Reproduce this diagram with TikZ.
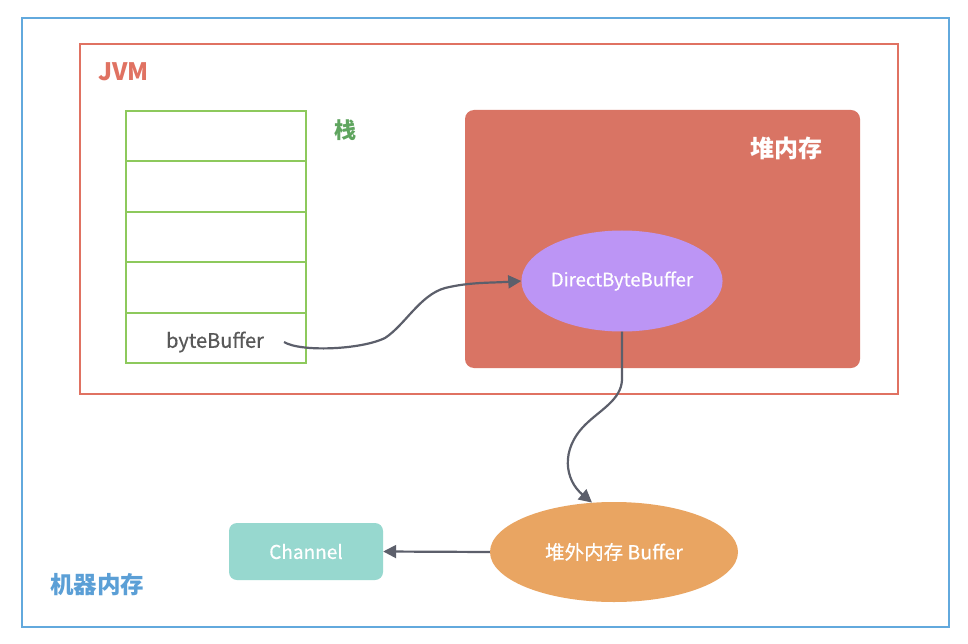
\documentclass[tikz,border=0pt]{standalone}
\usepackage{fontspec}
\setmainfont{Noto Sans CJK SC}
\newfontfamily\medfont{Noto Sans CJK SC}[FakeBold=0.5]
\usetikzlibrary{shapes.geometric,arrows.meta}
\definecolor{outerblue}{HTML}{62A9DD}
\definecolor{jvmred}{HTML}{E07262}
\definecolor{stackgreen}{HTML}{8DC95C}
\definecolor{stacktext}{HTML}{5FA55F}
\definecolor{heapfill}{HTML}{D97464}
\definecolor{purplefill}{HTML}{BC95F5}
\definecolor{orangefill}{HTML}{E9A562}
\definecolor{tealfill}{HTML}{97D8CF}
\definecolor{arrowgray}{HTML}{5C5F6B}
\definecolor{textgray}{HTML}{585858}
\definecolor{machineblue}{HTML}{5B9FD6}
\tikzset{
  conn/.style={draw=arrowgray, line width=2.2pt, -{Triangle[length=13pt,width=13pt]}},
  stackcell/.style={draw=stackgreen, line width=2pt, minimum width=180pt, minimum height=50.4pt, inner sep=0pt, outer sep=0pt},
}
\begin{document}
\begin{tikzpicture}[x=1pt,y=-1pt]
\useasboundingbox (0,0) rectangle (968,644);
\fill[white] (0,0) rectangle (968,644);
% outer machine memory
\draw[outerblue, line width=2.5pt] (22,18) rectangle (949,627);
\node[anchor=west, text=machineblue, font=\fontsize{23.5}{25}\selectfont\bfseries, inner sep=0pt] (machine) at (50,585) {机器内存};
% JVM
\draw[jvmred, line width=2pt] (80,44) rectangle (898,394);
\node[anchor=west, text=jvmred, font=\fontsize{24}{26}\selectfont\bfseries, inner sep=0pt] (jvm) at (98,72) {JVM};
% stack
\node[stackcell, anchor=north west] (s1) at (126,111) {};
\node[stackcell, anchor=north] (s2) at (s1.south) {};
\node[stackcell, anchor=north] (s3) at (s2.south) {};
\node[stackcell, anchor=north] (s4) at (s3.south) {};
\node[stackcell, anchor=north] (s5) at (s4.south) {};
\node[text=textgray, font=\fontsize{20}{22}\selectfont\medfont, inner sep=0pt] (bb) at (215,342) {byteBuffer};
\node[text=stacktext, font=\fontsize{22}{24}\selectfont\bfseries, inner sep=0pt] (stacklabel) at (345,130) {栈};
% heap
\fill[heapfill, rounded corners=9pt] (465,110) rectangle (860,368);
\node[text=white, font=\fontsize{24}{26}\selectfont\bfseries, inner sep=0pt] (heaplabel) at (786,148) {堆内存};
\node[ellipse, fill=purplefill, minimum width=198pt, minimum height=101pt, inner sep=0pt, text=white, font=\fontsize{18.5}{20}\selectfont\medfont] (dbb) at (622,281) {DirectByteBuffer};
% off-heap
\node[ellipse, fill=orangefill, minimum width=248pt, minimum height=100pt, inner sep=0pt, text=white, font=\fontsize{19.5}{21}\selectfont\medfont] (off) at (614,552) {堆外内存 Buffer};
\node[rectangle, rounded corners=8pt, fill=tealfill, minimum width=154pt, minimum height=57pt, inner sep=0pt, text=white, font=\fontsize{19}{21}\selectfont\medfont] (chan) at (306,551.5) {Channel};
% connectors
\coordinate (a0) at (284,342);
\draw[conn] (a0) .. controls (300,352) and (360,350) .. (385,338)
  .. controls (405,325) and (420,295) .. (445,288)
  .. controls (470,282) and (490,283) .. (dbb.west);
\draw[conn] (dbb.south) -- (622,380) .. controls (621,400) and (600,410) .. (585,425)
  .. controls (560,450) and (565,480) .. (off.114);
\draw[conn] (off.west) -- (chan.east);
\end{tikzpicture}
\end{document}
